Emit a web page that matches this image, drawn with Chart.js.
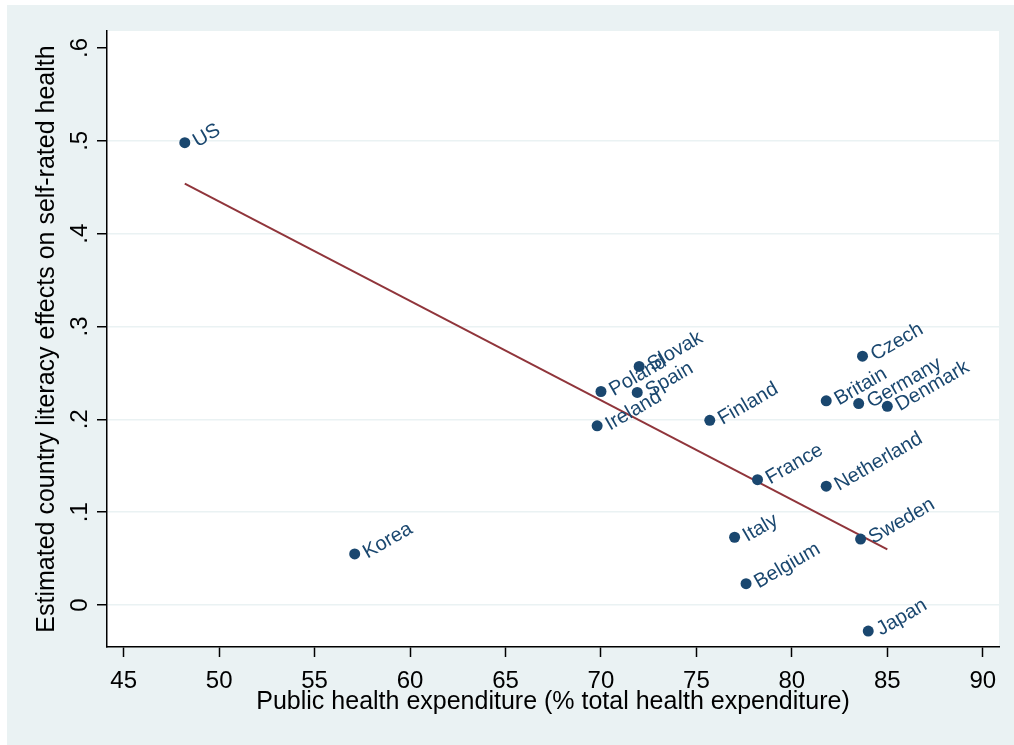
<!DOCTYPE html>
<html>
<head>
<meta charset="utf-8">
<script src="https://cdn.jsdelivr.net/npm/chart.js@4"></script>
<style>
  html, body { margin: 0; padding: 0; background: #ffffff; }
  #wrap { width: 1014px; height: 745px; }
</style>
</head>
<body>
<div id="wrap"><canvas id="myChart" width="1014" height="745"></canvas></div>
<script>
// countries and values
const countries = ['US', 'Korea', 'Poland', 'Slovak', 'Spain', 'Ireland', 'Finland', 'France', 'Czech',
    'Britain', 'Germany', 'Denmark', 'Netherland', 'Sweden', 'Italy', 'Belgium', 'Japan'];
const publicExpenditure = [48.2, 57.1, 70.0, 72.0, 71.9, 69.8, 75.7, 78.2, 83.7,
    81.8, 83.5, 85.0, 81.8, 83.6, 77.0, 77.6, 84.0];
const literacyEffect = [0.498, 0.055, 0.230, 0.257, 0.229, 0.193, 0.199, 0.135, 0.268,
    0.220, 0.217, 0.214, 0.128, 0.071, 0.073, 0.023, -0.028];

// fitted line end points
const fitX = [48.2, 85.0];
const fitY = [0.454, 0.060];

const xTicks = [45, 50, 55, 60, 65, 70, 75, 80, 85, 90];
const yTicks = [0, 0.1, 0.2, 0.3, 0.4, 0.5, 0.6];

const navy = '#1a476f';
const maroon = '#90353b';
const panel = '#eaf2f3';
const fontFamily = '"Liberation Sans", Arial, sans-serif';

// grey-blue outer panel and white plot region
const backgroundPlugin = {
    id: 'background',
    beforeDraw(chart) {
        const ctx = chart.ctx;
        const a = chart.chartArea;
        ctx.save();
        ctx.fillStyle = '#ffffff';
        ctx.fillRect(0, 0, chart.width, chart.height);
        ctx.fillStyle = panel;
        ctx.fillRect(7, 5, chart.width - 7, chart.height - 5);
        ctx.fillStyle = '#ffffff';
        ctx.fillRect(a.left, a.top, a.right - a.left, a.bottom - a.top);
        ctx.restore();
    }
};

// rotated marker labels
const markerLabels = {
    id: 'markerLabels',
    afterDatasetsDraw(chart) {
        const ctx = chart.ctx;
        const meta = chart.getDatasetMeta(0);
        ctx.save();
        ctx.font = '20px ' + fontFamily;
        ctx.fillStyle = navy;
        ctx.textAlign = 'left';
        ctx.textBaseline = 'middle';
        meta.data.forEach((pt, i) => {
            ctx.save();
            ctx.translate(pt.x + 10, pt.y);
            ctx.rotate(-Math.PI / 6);
            ctx.fillText(countries[i], 0, 0);
            ctx.restore();
        });
        ctx.restore();
    }
};

// y tick labels stand on end, like the original
const yTickLabels = {
    id: 'yTickLabels',
    afterDraw(chart) {
        const ctx = chart.ctx;
        const scale = chart.scales.y;
        ctx.save();
        ctx.font = '24px ' + fontFamily;
        ctx.fillStyle = '#000';
        ctx.textAlign = 'center';
        ctx.textBaseline = 'middle';
        scale.ticks.forEach(t => {
            const py = scale.getPixelForValue(t.value);
            const txt = t.value === 0 ? '0' : String(+t.value.toFixed(1)).replace('0.', '.');
            ctx.save();
            ctx.translate(80, py);
            ctx.rotate(-Math.PI / 2);
            ctx.fillText(txt, 0, 0);
            ctx.restore();
        });
        ctx.restore();
    }
};

new Chart(document.getElementById('myChart'), {
    type: 'scatter',
    data: {
        datasets: [{
            label: 'countries',
            data: publicExpenditure.map((x, i) => ({x: x, y: literacyEffect[i]})),
            backgroundColor: navy,
            borderWidth: 0,
            pointRadius: 5.5,
            order: 0,
        }, {
            type: 'line',
            label: 'fit',
            data: fitX.map((x, i) => ({x: x, y: fitY[i]})),
            borderColor: maroon,
            borderWidth: 2,
            pointRadius: 0,
            fill: false,
            order: 1,
        }],
    },
    options: {
        responsive: false,
        devicePixelRatio: 1,
        animation: false,
        layout: {
            padding: {left: 0, right: 15, top: 31, bottom: 0},
        },
        plugins: {
            legend: {display: false},
            tooltip: {enabled: false},
        },
        scales: {
            x: {
                type: 'linear',
                min: 44.125,
                max: 90.85,
                afterBuildTicks: (scale) => { scale.ticks = xTicks.map(v => ({value: v})); },
                afterFit: (scale) => { scale.height = 98; },
                border: {color: '#000', width: 1.5},
                grid: {
                    drawOnChartArea: false,
                    drawTicks: true,
                    tickLength: 10,
                    tickColor: '#000',
                    tickWidth: 1.5,
                },
                ticks: {
                    color: '#000',
                    font: {family: fontFamily, size: 24},
                    padding: 10,
                    maxRotation: 0,
                },
                title: {
                    display: true,
                    text: 'Public health expenditure (% total health expenditure)',
                    color: '#000',
                    font: {family: fontFamily, size: 25},
                    padding: {top: 0, bottom: 28},
                },
            },
            y: {
                type: 'linear',
                min: -0.0452,
                max: 0.6183,
                afterBuildTicks: (scale) => { scale.ticks = yTicks.map(v => ({value: v})); },
                afterFit: (scale) => { scale.width = 107; },
                border: {color: '#000', width: 1.5},
                grid: {
                    color: (c) => (c.tick && c.tick.value === 0.6) ? 'rgba(0,0,0,0)' : panel,
                    lineWidth: 1.5,
                    drawTicks: true,
                    tickLength: 10,
                    tickColor: '#000',
                    tickWidth: 1.5,
                },
                ticks: {display: false},
                title: {
                    display: true,
                    text: 'Estimated country literacy effects on self-rated health',
                    color: '#000',
                    font: {family: fontFamily, size: 25},
                    padding: {top: 32, bottom: 0},
                },
            },
        },
    },
    plugins: [backgroundPlugin, markerLabels, yTickLabels],
});
</script>
</body>
</html>
